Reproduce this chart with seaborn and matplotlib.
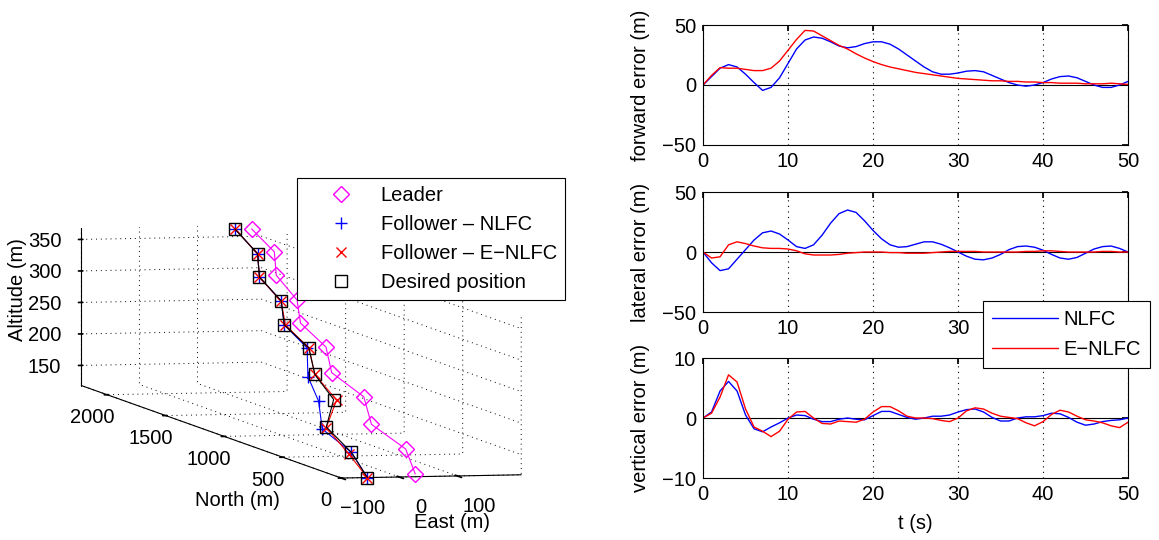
import numpy as np
import pandas as pd
import matplotlib
matplotlib.use("Agg")
import matplotlib.pyplot as plt
import seaborn as sns
from matplotlib.lines import Line2D

sns.set_theme(style="white")
plt.rcParams['font.family'] = ['Liberation Sans', 'DejaVu Sans']
FS = 14.5
plt.rcParams['font.size'] = FS
plt.rcParams['axes.edgecolor'] = 'black'
plt.rcParams['axes.linewidth'] = 0.8
plt.rcParams['xtick.direction'] = 'in'
plt.rcParams['ytick.direction'] = 'in'
plt.rcParams['xtick.color'] = 'black'
plt.rcParams['ytick.color'] = 'black'
plt.rcParams['text.color'] = 'black'
plt.rcParams['axes.labelcolor'] = 'black'
plt.rcParams['grid.linestyle'] = ':'
plt.rcParams['grid.color'] = 'black'
plt.rcParams['grid.linewidth'] = 0.7

# ---------------- error time series (1 s samples) ----------------
t = list(range(0, 51))
fwd_nlfc = [0, 7, 14, 17, 15, 9, 2, -4.5, -2, 6, 18, 30, 37.5, 40, 39, 36, 32.5, 31, 32, 34.5,
            36, 36, 34, 30, 25, 20, 15, 11, 9, 9, 10, 11.5, 12, 11, 8, 5, 2, 0, -1, 0,
            2, 5, 7, 7.5, 6, 3, 0, -2, -2, 0, 3]
fwd_enlfc = [0, 8, 14.5, 14, 14, 13, 12, 12, 14, 20, 29, 38, 45.5, 45, 41, 37, 33, 30, 26, 22.5,
             19.5, 17, 15, 13.5, 12, 10.5, 9.5, 8.5, 7.5, 6.5, 5.5, 5, 4.5, 4, 3.5, 3.5, 3, 3, 2.5, 2.5,
             2, 2, 1.5, 1.5, 1.5, 1, 1, 1, 1.5, 1, 0.5]
lat_nlfc = [0, -9, -15.5, -14, -6, 2, 10, 16, 17.5, 15, 10, 4.5, 3, 6, 14, 24, 32, 35, 33, 26,
            18, 11, 6, 4, 4.5, 6.5, 8.5, 8.5, 6.5, 3.5, 0, -3.5, -6, -6.5, -5, -2, 2, 4.5, 5, 4,
            1.5, -2, -5, -6, -4.5, -1, 2.5, 4.5, 5, 3, 0]
lat_enlfc = [0, -5, -4, 6, 8.5, 7, 5, 3.5, 3, 3, 2.5, 1, -1.5, -2.5, -2.5, -2.5, -2, -1, -0.5, 0,
             0, 0, -0.5, -0.5, -1, -1, -1, -0.5, 0, 0.5, 0.5, 0.5, 0.5, 0, 0, 0, 0, 0, 0.5, 0.5,
             1, 1, 0.5, 0, 0, 0, 0, 0.5, 0.5, 0, 0]
ver_nlfc = [0, 1, 4.5, 6.1, 4.5, 0.5, -1.8, -2.3, -1.5, -0.8, 0, 0.5, 0.4, -0.2, -0.6, -0.6, -0.2, 0, -0.2, -0.3,
            0.4, 1.1, 1.1, 0.6, 0.1, -0.2, 0, 0.3, 0.3, 0.5, 1, 1.4, 1.5, 1, 0.1, -0.5, -0.5, 0, 0.2, 0.2,
            0.4, 0.8, 0.7, 0.1, -0.7, -1.2, -1, -0.6, -0.4, -0.3, 0]
ver_enlfc = [0, 0.8, 3.5, 7.2, 6, 1.5, -1.5, -2.2, -3.1, -2.2, -0.2, 1, 1.1, 0, -0.9, -1, -0.5, -0.6, -0.7, -0.2,
             1, 1.9, 1.9, 1.2, 0.3, 0, 0, -0.1, -0.4, -0.6, 0, 1.2, 1.7, 1.5, 0.8, 0.3, 0.1, -0.1, -0.8, -1.3,
             -0.6, 0.6, 1.3, 1, 0.3, -0.3, -0.5, -0.8, -1.3, -1.6, -0.7]

# ---------------- 3D trajectory samples (every 5 s) ----------------
north_des = [0, 220, 440, 660, 880, 1100, 1320, 1540, 1760, 1980, 2200]
east_des = [-55, -38, -37, 20, 32, 66, 68, 107, 114, 155, 160]
alt_des = [118, 143, 169, 197, 222, 249, 271, 294, 317, 339, 364]

north_lead = [62, 278, 481, 710, 915, 1112, 1355, 1553, 1795, 2015, 2190]
east_lead = [40, 67, 49, 82, 68, 98, 103, 137, 150, 191, 187]
alt_lead = [118, 143, 169, 197, 222, 249, 271, 294, 317, 339, 364]

north_nlfc = [0, 220, 440, 660, 880, 1100, 1320, 1540, 1760, 1980, 2200]
east_nlfc = [-55, -38, -44, -6, 20, 63, 68, 107, 114, 155, 160]
alt_nlfc = [118, 143, 166, 195, 219, 249, 271, 294, 317, 339, 364]

north_enlfc = [0, 220, 440, 660, 880, 1100, 1320, 1540, 1760, 1980, 2200]
east_enlfc = [-55, -43, -37, 25, 32, 66, 70, 107, 114, 155, 160]
alt_enlfc = [118, 141, 168, 196, 222, 249, 271, 293, 317, 339, 364]

BLUE = '#0000ff'
RED = '#ff0000'
MAG = '#ff00ff'

fig = plt.figure(figsize=(11.59, 5.40), dpi=100)

# ---------------- left: 3D plot ----------------
ax3 = fig.add_axes([-5 / 1159, 0.0, 0.52, 0.68], projection='3d')
ax3.set_proj_type('ortho')
ax3.view_init(elev=4.6, azim=-102.7)
ax3.set_box_aspect((184.5, 1182, 158), zoom=3.19)
for axis in (ax3.xaxis, ax3.yaxis, ax3.zaxis):
    axis.pane.set_facecolor((1, 1, 1, 0))
    axis.pane.set_edgecolor((1, 1, 1, 0))
    axis._axinfo['grid'].update(color='black', linestyle=(0, (1, 4)), linewidth=0.7)
    axis.line.set_color('black')
    axis.line.set_linewidth(0.8)

ax3.plot(east_lead, north_lead, alt_lead, color=MAG, lw=0.8, marker='D', ms=8, mfc='none', mec=MAG, label='Leader')
ax3.plot(east_nlfc, north_nlfc, alt_nlfc, color=BLUE, lw=0.8, marker='+', ms=9, mec=BLUE, label='Follower \u2013 NLFC')
ax3.plot(east_enlfc, north_enlfc, alt_enlfc, color=RED, lw=0.8, marker='x', ms=7, mec=RED, label='Follower \u2013 E\u2212NLFC')
ax3.plot(east_des, north_des, alt_des, color='black', lw=0.8, marker='s', ms=8, mfc='none', mec='black', label='Desired position')

ax3.set_xlim(-100, 210)
ax3.set_ylim(0, 2220)
ax3.set_zlim(118, 368)
ax3.set_xticks([-100, 0, 100])
ax3.set_xticklabels(['\u2212100', '0', '100'])
ax3.set_yticks([0, 500, 1000, 1500, 2000])
ax3.set_zticks([150, 200, 250, 300, 350])
ax3.set_xlabel('')
ax3.set_ylabel('')
ax3.set_zlabel('')
ax3.tick_params(labelsize=FS)
fig.text(18 / 1159, 1 - 290 / 540, 'Altitude (m)', rotation=90, ha='center', va='center', fontsize=FS)
fig.text(237 / 1159, 1 - 500 / 540, 'North (m)', ha='center', va='center', fontsize=FS)
fig.text(452 / 1159, 1 - 522 / 540, 'East (m)', ha='center', va='center', fontsize=FS)

lh = [Line2D([], [], color=MAG, marker='D', ls='none', ms=8, mfc='none'),
      Line2D([], [], color=BLUE, marker='+', ls='none', ms=9),
      Line2D([], [], color=RED, marker='x', ls='none', ms=7),
      Line2D([], [], color='black', marker='s', ls='none', ms=8, mfc='none')]
ll = ['Leader', 'Follower \u2013 NLFC', 'Follower \u2013 E\u2212NLFC', 'Desired position']
leg1 = fig.legend(lh, ll, loc='upper left', bbox_to_anchor=(297 / 1159, 1 - 178 / 540), frameon=True,
                  fancybox=False, edgecolor='black', fontsize=FS, handletextpad=0.15, labelspacing=0.5,
                  borderpad=0.4, handlelength=3.6, borderaxespad=0, framealpha=1)
leg1.get_frame().set_linewidth(0.8)

# ---------------- right: error plots ----------------
positions = [[0.6066, 0.7315, 0.3667, 0.2222],
             [0.6066, 0.4222, 0.3667, 0.2222],
             [0.6066, 0.1148, 0.3667, 0.2222]]
series = [(fwd_nlfc, fwd_enlfc, 'forward error (m)', [-50, 0, 50]),
          (lat_nlfc, lat_enlfc, 'lateral error (m)', [-50, 0, 50]),
          (ver_nlfc, ver_enlfc, 'vertical error (m)', [-10, 0, 10])]
axes = []
for pos, (b, r, lab, yt) in zip(positions, series):
    ax = fig.add_axes(pos)
    df = pd.DataFrame({'t': t, 'NLFC': b, 'E\u2212NLFC': r})
    ax.axhline(0, color='black', lw=0.8, zorder=1)
    sns.lineplot(data=df, x='t', y='NLFC', ax=ax, color=BLUE, lw=1.0, label='NLFC', legend=False)
    sns.lineplot(data=df, x='t', y='E\u2212NLFC', ax=ax, color=RED, lw=1.0, label='E\u2212NLFC', legend=False)
    ax.set_xlim(0, 50)
    ax.set_ylim(yt[0], yt[-1])
    ax.set_yticks(yt)
    ax.set_yticklabels([str(v).replace('-', '\u2212') for v in yt])
    ax.set_xticks([0, 10, 20, 30, 40, 50])
    ax.set_xlabel('')
    ax.set_ylabel(lab, fontsize=FS, labelpad=9)
    ax.grid(True, axis='x', linestyle=(0, (1, 4)), color='black', linewidth=0.8)
    ax.tick_params(labelsize=FS, length=4, top=True, right=True, pad=5)
    for s in ax.spines.values():
        s.set_linewidth(0.8)
        s.set_color('black')
    axes.append(ax)
axes[-1].set_xlabel('t (s)', fontsize=FS, labelpad=7)

h = [Line2D([], [], color=BLUE, lw=1.0), Line2D([], [], color=RED, lw=1.0)]
leg2 = fig.legend(h, ['NLFC', 'E\u2212NLFC'], loc='upper left', bbox_to_anchor=(983 / 1159, 1 - 301 / 540),
                  frameon=True, fancybox=False, edgecolor='black', fontsize=FS, handlelength=3.25,
                  handletextpad=0.3, labelspacing=0.55, borderpad=0.45, borderaxespad=0, framealpha=1)
leg2.get_frame().set_linewidth(0.8)

fig.savefig('out.png', dpi=100)
